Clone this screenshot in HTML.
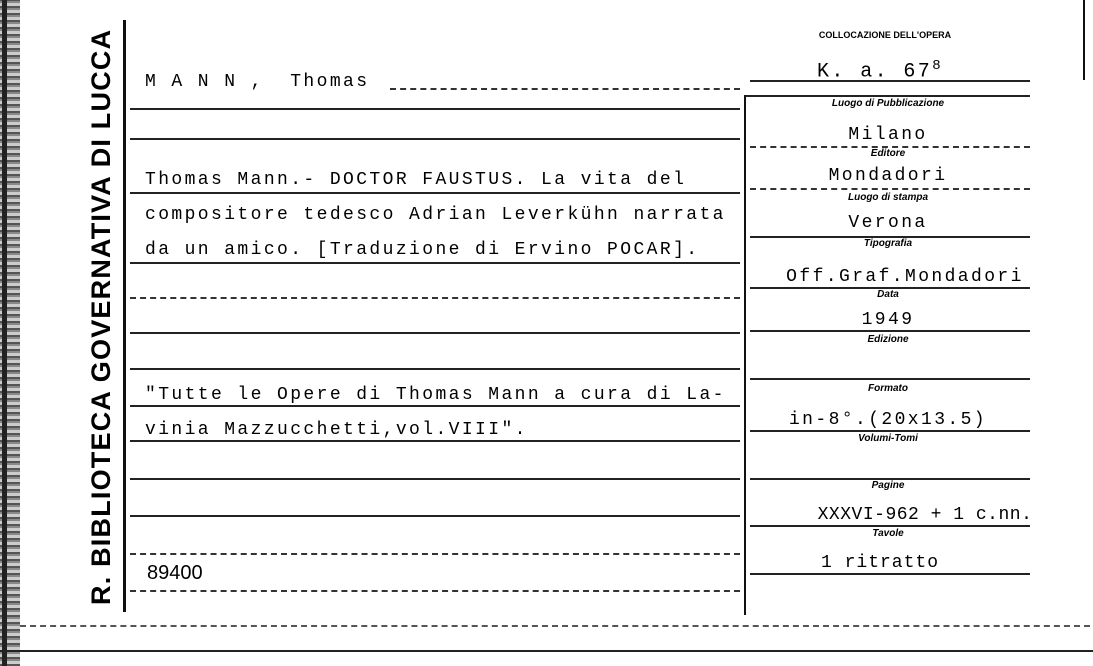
<!DOCTYPE html>
<html><head><style>
body{margin:0;width:1093px;height:666px;background:#fff;position:relative;overflow:hidden;font-family:"Liberation Mono",monospace;color:#000}
.t{position:absolute;font-size:18px;white-space:pre;letter-spacing:2.4px}
.h{position:absolute;height:2px;background:#222}
.d{position:absolute;height:0;border-top:2px dashed #333}
.v{position:absolute;width:3px;background:#111}
.l{position:absolute;font-family:"Liberation Sans",sans-serif;font-weight:bold;font-style:italic;font-size:10px;transform:translateX(-50%);white-space:nowrap}
.c{position:absolute;transform:translateX(-50%);font-size:18px;letter-spacing:2.4px;white-space:pre}
</style></head><body>
<div style="position:absolute;left:0;top:0;width:20px;height:666px;background:repeating-linear-gradient(0deg,#555 0 2px,#ccc 2px 5px,#888 5px 7px)"></div>
<div style="position:absolute;left:2px;top:0;width:5px;height:666px;background:#222"></div>
<div style="position:absolute;left:86px;top:605px;transform:rotate(-90deg);transform-origin:0 0;font-family:'Liberation Sans',sans-serif;font-weight:bold;font-size:27px;letter-spacing:1.2px;white-space:nowrap;width:585px">R. BIBLIOTECA GOVERNATIVA DI LUCCA</div>
<div class="v" style="left:123px;top:20px;height:592px"></div>
<div class="v" style="left:744px;top:95px;height:520px;width:2px"></div>
<div class="h" style="left:0;top:650px;width:1093px"></div>
<div class="d" style="left:20px;top:625px;width:1070px;border-top-color:#555"></div>

<div class="t" style="left:145px;top:72px">M A N N ,  Thomas</div>
<div class="d" style="left:390px;top:88px;width:350px"></div>
<div class="h" style="left:130px;top:108px;width:610px"></div>
<div class="h" style="left:130px;top:138px;width:610px"></div>
<div class="t" style="left:145px;top:170px">Thomas Mann.- DOCTOR FAUSTUS. La vita del</div>
<div class="t" style="left:145px;top:205px">compositore tedesco Adrian Leverkühn narrata</div>
<div class="t" style="left:145px;top:240px">da un amico. [Traduzione di Ervino POCAR].</div>
<div class="h" style="left:130px;top:192px;width:610px"></div>
<div class="h" style="left:130px;top:262px;width:610px"></div>
<div class="d" style="left:130px;top:297px;width:610px"></div>
<div class="h" style="left:130px;top:332px;width:610px"></div>
<div class="h" style="left:130px;top:368px;width:610px"></div>
<div class="t" style="left:145px;top:385px">"Tutte le Opere di Thomas Mann a cura di La-</div>
<div class="t" style="left:145px;top:420px">vinia Mazzucchetti,vol.VIII".</div>
<div class="h" style="left:130px;top:405px;width:610px"></div>
<div class="h" style="left:130px;top:440px;width:610px"></div>
<div class="h" style="left:130px;top:478px;width:610px"></div>
<div class="h" style="left:130px;top:515px;width:610px"></div>
<div class="d" style="left:130px;top:553px;width:610px"></div>
<div class="t" style="left:147px;top:562px;font-family:'Liberation Sans',sans-serif;font-size:20px;letter-spacing:0">89400</div>
<div class="d" style="left:130px;top:590px;width:610px"></div>

<div class="l" style="left:885px;top:30px;font-style:normal;font-size:9px">COLLOCAZIONE DELL'OPERA</div>
<div class="c" style="left:880px;top:58px;font-size:20px">K. a. 67<sup style="font-size:14px">8</sup></div>
<div class="h" style="left:750px;top:80px;width:280px"></div>
<div class="h" style="left:745px;top:95px;width:285px"></div>
<div class="l" style="left:888px;top:98px">Luogo di Pubblicazione</div>
<div class="c" style="left:888px;top:125px">Milano</div>
<div class="d" style="left:750px;top:146px;width:280px"></div>
<div class="l" style="left:888px;top:148px">Editore</div>
<div class="c" style="left:888px;top:166px">Mondadori</div>
<div class="d" style="left:750px;top:188px;width:280px"></div>
<div class="l" style="left:888px;top:192px">Luogo di stampa</div>
<div class="c" style="left:888px;top:213px">Verona</div>
<div class="h" style="left:750px;top:236px;width:280px"></div>
<div class="l" style="left:888px;top:238px">Tipografia</div>
<div class="c" style="left:905px;top:267px">Off.Graf.Mondadori</div>
<div class="h" style="left:750px;top:287px;width:280px"></div>
<div class="l" style="left:888px;top:289px">Data</div>
<div class="c" style="left:888px;top:310px">1949</div>
<div class="h" style="left:750px;top:330px;width:280px"></div>
<div class="l" style="left:888px;top:334px">Edizione</div>
<div class="h" style="left:750px;top:378px;width:280px"></div>
<div class="l" style="left:888px;top:383px">Formato</div>
<div class="c" style="left:888px;top:410px">in-8°.(20x13.5)</div>
<div class="h" style="left:750px;top:430px;width:280px"></div>
<div class="l" style="left:888px;top:433px">Volumi-Tomi</div>
<div class="h" style="left:750px;top:478px;width:280px"></div>
<div class="l" style="left:888px;top:480px">Pagine</div>
<div class="c" style="left:925px;top:505px;letter-spacing:0.5px">XXXVI-962 + 1 c.nn.</div>
<div class="h" style="left:750px;top:525px;width:280px"></div>
<div class="l" style="left:888px;top:528px">Tavole</div>
<div class="c" style="left:880px;top:553px;letter-spacing:1px">1 ritratto</div>
<div class="h" style="left:750px;top:573px;width:280px"></div>
<div class="v" style="left:1083px;top:0;height:80px;width:2px"></div>
</body></html>
